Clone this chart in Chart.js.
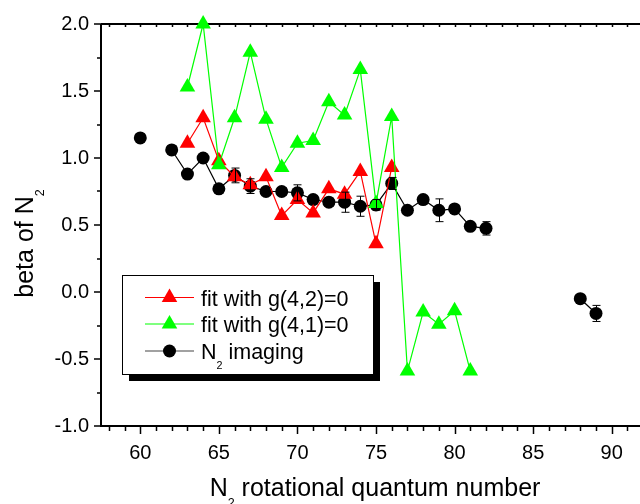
<!DOCTYPE html>
<html>
<head>
<meta charset="utf-8">
<script src="https://cdn.jsdelivr.net/npm/chart.js@4.4.0/dist/chart.umd.min.js"></script>
<style>
  html, body { margin: 0; padding: 0; overflow: hidden; background: #fff; }
  #wrap { width: 660px; height: 504px; }
</style>
</head>
<body>
<div id="wrap"><canvas id="c" width="660" height="504"></canvas></div>
<script>
// ---- data ----
// N2 imaging (null = gap in the line)
const imgJ    = [60, 61, 62, 63, 64, 65, 66, 67, 68, 69, 70, 71, 72, 73, 74, 75, 76, 77, 78, 79, 80, 81, 82, 83, 88, 89];
const imgBeta = [1.15, null, 1.06, 0.88, 1.00, 0.77, 0.87, 0.79, 0.75, 0.75, 0.74, 0.69, 0.67, 0.67, 0.64, 0.65, 0.81, 0.61, 0.69, 0.61, 0.62, 0.49, 0.475, null, -0.05, -0.16];
const imgErr  = [0.02, 0, 0.03, 0.02, 0.02, 0.03, 0.055, 0.055, 0.03, 0.03, 0.06, 0.03, 0.03, 0.075, 0.075, 0.04, 0.045, 0.02, 0.02, 0.085, 0.02, 0.02, 0.05, 0, 0.02, 0.06];

// fit with g(4,2)=0
const fit42J    = [63, 64, 65, 66, 67, 68, 69, 70, 71, 72, 73, 74, 75, 76];
const fit42Beta = [1.11, 1.30, 0.98, 0.86, 0.80, 0.86, 0.57, 0.69, 0.59, 0.77, 0.73, 0.90, 0.36, 0.93];

// fit with g(4,1)=0
const fit41J    = [63, 64, 65, 66, 67, 68, 69, 70, 71, 72, 73, 74, 75, 76, 77, 78, 79, 80, 81];
const fit41Beta = [1.53, 2.00, 0.95, 1.30, 1.79, 1.29, 0.93, 1.11, 1.13, 1.42, 1.32, 1.66, 0.66, 1.31, -0.59, -0.15, -0.24, -0.14, -0.59];

const xTicks = [60, 65, 70, 75, 80, 85, 90];
const yTicks = [-1.0, -0.5, 0.0, 0.5, 1.0, 1.5, 2.0];

const legendLabels = [
  [{ t: 'fit with g(4,2)=0' }],
  [{ t: 'fit with g(4,1)=0' }],
  [{ t: 'N' }, { t: '2', sub: true }, { t: ' imaging' }]
];

const FONT = '"Liberation Sans", Arial, Helvetica, sans-serif';
Chart.defaults.font.family = FONT;
Chart.defaults.color = '#000';

function pts(xs, ys){ return xs.map((x, i) => ({ x, y: ys[i] })); }

// ---- rich text helper (subscripts) ----
function richWidth(ctx, parts, size){
  let w = 0;
  parts.forEach(p => {
    ctx.font = (p.sub ? size * 0.5 : size) + 'px ' + FONT;
    w += ctx.measureText(p.t).width;
  });
  return w;
}
function drawRich(ctx, parts, x, y, size, align){
  const w = richWidth(ctx, parts, size);
  let cx = align === 'center' ? x - w / 2 : x;
  ctx.textAlign = 'left';
  ctx.textBaseline = 'alphabetic';
  parts.forEach(p => {
    const s = p.sub ? size * 0.5 : size;
    ctx.font = s + 'px ' + FONT;
    ctx.fillText(p.t, cx, p.sub ? y + size * 0.45 : y);
    cx += ctx.measureText(p.t).width;
  });
}

const datasets = [
  { label: 'fit with g(4,2)=0', data: pts(fit42J, fit42Beta), borderColor: '#ff0000', backgroundColor: '#ff0000',
    pointStyle: 'triangle', pointRadius: 9, order: 1 },
  { label: 'fit with g(4,1)=0', data: pts(fit41J, fit41Beta), borderColor: '#00ff00', backgroundColor: '#00ff00',
    pointStyle: 'triangle', pointRadius: 9, order: 0 },
  { label: 'N2 imaging', data: pts(imgJ, imgBeta), borderColor: '#000', backgroundColor: '#000',
    pointStyle: 'circle', pointRadius: 6.5, order: 2 }
];
datasets.forEach(d => {
  d.borderWidth = 1.2;
  d.pointBorderWidth = 0;
  d.pointHoverRadius = d.pointRadius;
  d.tension = 0;
  d.spanGaps = false;
  d.fill = false;
  d.clip = false;
});

// ---- frame, error bars, legend, titles ----
const extras = {
  id: 'extras',
  beforeDatasetsDraw(chart){
    const ctx = chart.ctx, xs = chart.scales.x, ys = chart.scales.y, a = chart.chartArea;
    ctx.save();
    ctx.strokeStyle = '#000';
    ctx.lineWidth = 2;
    ctx.beginPath();
    ctx.moveTo(a.left, a.top); ctx.lineTo(a.left, a.bottom); ctx.lineTo(a.right, a.bottom);
    ctx.moveTo(a.left, a.top); ctx.lineTo(a.right, a.top);
    ctx.lineTo(a.right, a.bottom);
    ctx.stroke();
    ctx.lineWidth = 1.5;
    ctx.beginPath();
    for (let v = -1; v <= 2.001; v += 0.25) {
      const py = Math.round(ys.getPixelForValue(v));
      const major = Math.abs(v * 2 - Math.round(v * 2)) < 1e-6;
      ctx.moveTo(a.left, py); ctx.lineTo(a.left - (major ? 7 : 4), py);
    }
    for (let v = 58; v <= 92; v++) {
      const px = Math.round(xs.getPixelForValue(v)) + 0.5;
      ctx.moveTo(px, a.bottom); ctx.lineTo(px, a.bottom + (v % 5 === 0 ? 8 : 5));
      ctx.moveTo(px, a.top); ctx.lineTo(px, a.top + 3);
    }
    ctx.stroke();
    ctx.restore();
  },
  afterDatasetsDraw(chart){
    const ctx = chart.ctx, xs = chart.scales.x, ys = chart.scales.y;
    ctx.save();
    ctx.strokeStyle = '#000';
    ctx.lineWidth = 1;
    imgJ.forEach((j, i) => {
      const v = imgBeta[i], e = imgErr[i];
      if (v === null || !e) return;
      const px = Math.round(xs.getPixelForValue(j)) + 0.5;
      const top = ys.getPixelForValue(v + e), bot = ys.getPixelForValue(v - e);
      ctx.beginPath();
      ctx.moveTo(px, top); ctx.lineTo(px, bot);
      ctx.moveTo(px - 4, top); ctx.lineTo(px + 4, top);
      ctx.moveTo(px - 4, bot); ctx.lineTo(px + 4, bot);
      ctx.stroke();
    });
    ctx.restore();
  },
  afterDraw(chart){
    const ctx = chart.ctx;
    ctx.save();
    ctx.strokeStyle = '#000';

    // legend box with shadow
    const bx = 122, by = 275, bw = 251, bh = 99;
    ctx.fillStyle = '#000';
    ctx.fillRect(bx + 7, by + 7, bw, bh);
    ctx.fillStyle = '#fff';
    ctx.fillRect(bx, by, bw, bh);
    ctx.lineWidth = 1;
    ctx.strokeRect(bx + 0.5, by + 0.5, bw, bh);
    const rows = [297.5, 324, 351];
    [0, 1, 2].forEach((di, r) => {
      const d = datasets[di], y = rows[r];
      ctx.strokeStyle = di === 2 ? '#444' : d.borderColor;
      ctx.lineWidth = 1.2;
      ctx.beginPath(); ctx.moveTo(145, y); ctx.lineTo(194, y); ctx.stroke();
      ctx.fillStyle = d.backgroundColor;
      Chart.helpers.drawPoint(ctx, { pointStyle: d.pointStyle, radius: d.pointRadius, rotation: 0, borderWidth: 0 }, 169.5, y);
      ctx.fillStyle = '#000';
      drawRich(ctx, legendLabels[r], 201, y + 8, 21.5, 'left');
    });

    // axis titles
    ctx.fillStyle = '#000';
    drawRich(ctx, [{ t: 'N' }, { t: '2', sub: true }, { t: ' rotational quantum number' }], 375, 496, 25, 'center');
    ctx.save();
    ctx.translate(33, 243.5);
    ctx.rotate(-Math.PI / 2);
    drawRich(ctx, [{ t: 'beta of N' }, { t: '2', sub: true }], 0, 0, 25, 'center');
    ctx.restore();
    ctx.restore();
  }
};

new Chart(document.getElementById('c'), {
  type: 'line',
  data: { datasets },
  options: {
    responsive: false,
    animation: false,
    layout: { padding: { left: 0, top: 23, right: 9, bottom: 0 } },
    plugins: { legend: { display: false }, tooltip: { enabled: false } },
    scales: {
      x: {
        type: 'linear', min: 57.5, max: 92.5,
        afterBuildTicks: s => { s.ticks = xTicks.map(v => ({ value: v })); },
        afterFit: s => { s.height = 78; },
        grid: { display: false, drawTicks: false },
        border: { display: false },
        ticks: { font: { size: 20 }, color: '#000', padding: 15, maxRotation: 0, callback: v => String(v) }
      },
      y: {
        type: 'linear', min: -1, max: 2,
        afterBuildTicks: s => { s.ticks = yTicks.map(v => ({ value: v })); },
        afterFit: s => { s.width = 101; },
        grid: { display: false, drawTicks: false },
        border: { display: false },
        ticks: { font: { size: 20 }, color: '#000', padding: 12, callback: v => Number(v).toFixed(1) }
      }
    }
  },
  plugins: [extras]
});
</script>
</body>
</html>
